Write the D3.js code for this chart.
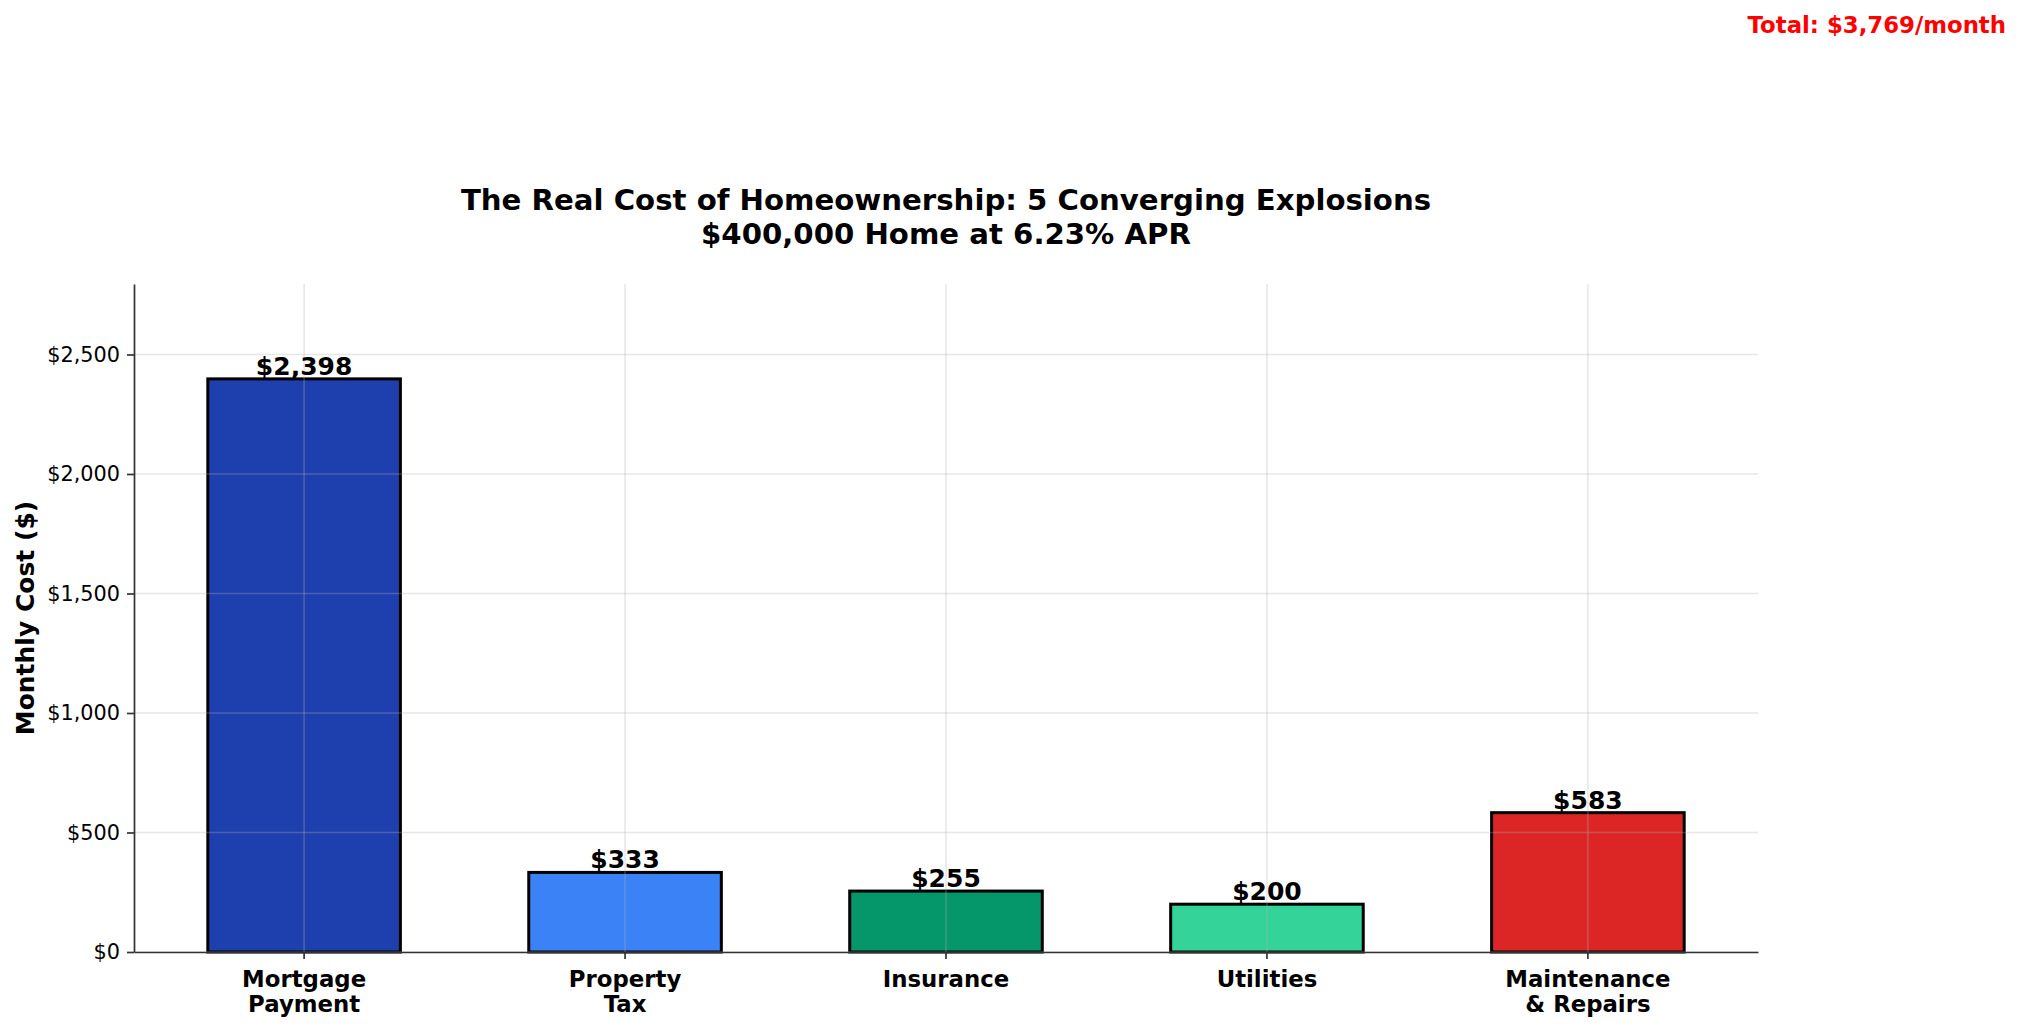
<!DOCTYPE html>
<html>
<head>
<meta charset="utf-8">
<script src="https://cdn.jsdelivr.net/npm/d3@7"></script>
<style>
  html, body { margin: 0; padding: 0; background: #fff; }
  svg { display: block; font-family: 'DejaVu Sans', sans-serif; }
</style>
</head>
<body>
<div id="chart_area"></div>
<script>
// data
const categories = [['Mortgage', 'Payment'], ['Property', 'Tax'], ['Insurance'], ['Utilities'], ['Maintenance', '& Repairs']];
const monthlyCost = [2398, 333, 255, 200, 583];
const yTicks = [0, 500, 1000, 1500, 2000, 2500];
const titleLines = ['The Real Cost of Homeownership: 5 Converging Explosions', '$400,000 Home at 6.23% APR'];

const barColors = ['#1e40af', '#3b82f6', '#059669', '#34d399', '#dc2626'];

// set the dimensions and margins of the graph
const svgWidth = 2022;
const svgHeight = 1031;
const margin = { top: 284, right: 264, bottom: 79, left: 134 };
const width = svgWidth - margin.left - margin.right;
const height = svgHeight - margin.top - margin.bottom;

const svg = d3
  .select('#chart_area')
  .append('svg')
  .attr('width', svgWidth)
  .attr('height', svgHeight);

const g = svg
  .append('g')
  .attr('transform', 'translate(' + margin.left + ',' + margin.top + ')');

const x = d3
  .scaleBand()
  .domain(d3.range(monthlyCost.length))
  .range([0, width])
  .paddingInner(0.4)
  .paddingOuter(0.23);

const y = d3.scaleLinear().domain([0, 2795]).range([height, 0]);

const fmt = (d) => '$' + d3.format(',')(d);

// bars
g.append('g')
  .selectAll('rect')
  .data(monthlyCost)
  .join('rect')
  .attr('x', (d, i) => x(i))
  .attr('y', (d) => y(d))
  .attr('width', x.bandwidth())
  .attr('height', (d) => y(0) - y(d))
  .attr('fill', (d, i) => barColors[i])
  .attr('stroke', '#000')
  .attr('stroke-width', 3);

// grid, drawn over the bars like matplotlib does
const grid = g.append('g').attr('stroke', '#b0b0b0').attr('stroke-opacity', 0.3).attr('stroke-width', 1.6);
yTicks.forEach((t) => {
  grid.append('line').attr('x1', 0).attr('x2', width).attr('y1', y(t)).attr('y2', y(t));
});
monthlyCost.forEach((_, i) => {
  const cx = x(i) + x.bandwidth() / 2;
  grid.append('line').attr('x1', cx).attr('x2', cx).attr('y1', 0).attr('y2', height);
});

// y axis
const yAxis = g
  .append('g')
  .call(d3.axisLeft(y).tickValues(yTicks).tickFormat(fmt).tickSize(7).tickSizeOuter(0).tickPadding(7));
yAxis.select('.domain').attr('stroke', '#333').attr('stroke-width', 1.7);
yAxis.selectAll('.tick line').attr('stroke', '#333').attr('stroke-width', 1.7);
yAxis.selectAll('.tick text').attr('font-size', 20.8).attr('fill', '#000').attr('font-family', 'DejaVu Sans');

// x axis
const xAxis = g
  .append('g')
  .attr('transform', 'translate(0,' + height + ')')
  .call(d3.axisBottom(x).tickSize(7).tickSizeOuter(0).tickPadding(7));
xAxis.select('.domain').attr('stroke', '#333').attr('stroke-width', 1.7);
xAxis.selectAll('.tick line').attr('stroke', '#333').attr('stroke-width', 1.7);
xAxis.selectAll('.tick text').each(function (i) {
  const t = d3.select(this);
  t.text(null)
    .attr('y', 0)
    .attr('dy', null)
    .attr('font-size', 22.8)
    .attr('font-weight', 'bold')
    .attr('fill', '#000')
    .attr('font-family', 'DejaVu Sans');
  categories[i].forEach((line, k) => {
    t.append('tspan').attr('x', 0).attr('y', 34.5 + k * 25).text(line);
  });
});

// value labels
g.append('g')
  .selectAll('text')
  .data(monthlyCost)
  .join('text')
  .attr('x', (d, i) => x(i) + x.bandwidth() / 2)
  .attr('y', (d) => y(d) - 4)
  .attr('text-anchor', 'middle')
  .attr('font-size', 25)
  .attr('font-weight', 'bold')
  .attr('fill', '#000')
  .text(fmt);

// y label
svg
  .append('text')
  .attr('transform', 'translate(34,' + (margin.top + height / 2) + ') rotate(-90)')
  .attr('text-anchor', 'middle')
  .attr('font-size', 25)
  .attr('font-weight', 'bold')
  .text('Monthly Cost ($)');

// title
titleLines.forEach((line, k) => {
  svg
    .append('text')
    .attr('x', margin.left + width / 2)
    .attr('y', 210 + k * 34)
    .attr('text-anchor', 'middle')
    .attr('font-size', 29.2)
    .attr('font-weight', 'bold')
    .text(line);
});

// total in the corner
svg
  .append('text')
  .attr('x', 2006)
  .attr('y', 33)
  .attr('text-anchor', 'end')
  .attr('font-size', 22.8)
  .attr('font-weight', 'bold')
  .attr('fill', '#ff0000')
  .text('Total: ' + fmt(d3.sum(monthlyCost)) + '/month');
</script>
</body>
</html>
